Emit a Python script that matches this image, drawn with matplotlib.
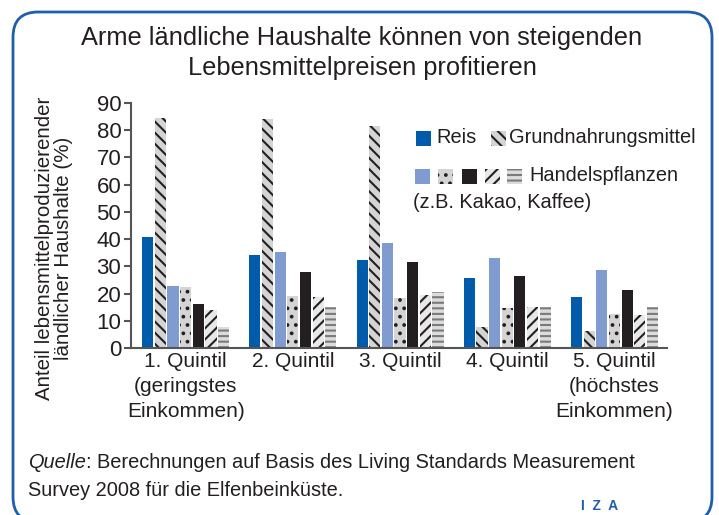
import matplotlib.pyplot as plt
import numpy as np
from matplotlib.patches import Rectangle, FancyBboxPatch

plt.rcParams['font.family'] = ['Liberation Sans', 'DejaVu Sans']
plt.rcParams['hatch.linewidth'] = 1.5

# data (share of food-producing rural households, %)
groups = ['1. Quintil\n(geringstes\nEinkommen)', '2. Quintil', '3. Quintil',
          '4. Quintil', '5. Quintil\n(höchstes\nEinkommen)']
reis = [40.9, 34.1, 32.3, 25.7, 18.7]
grund = [84.6, 84.1, 81.6, 7.6, 6.1]
handel_1 = [22.7, 35.2, 38.5, 33.0, 28.6]
handel_2 = [22.5, 19.0, 18.3, 14.6, 12.4]
handel_3 = [16.1, 27.9, 31.6, 26.4, 21.3]
handel_4 = [13.9, 18.6, 19.4, 15.0, 12.1]
handel_5 = [7.6, 15.0, 20.5, 15.0, 15.0]

series = [reis, grund, handel_1, handel_2, handel_3, handel_4, handel_5]
styles = [
    dict(color='#005BAA', edgecolor='#005BAA', hatch=None),
    dict(color='#D4D4D4', edgecolor='#231F20', hatch='\\\\\\'),
    dict(color='#7F9BCF', edgecolor='#7F9BCF', hatch=None),
    dict(color='#D4D4D4', edgecolor='#231F20', hatch='..'),
    dict(color='#231F20', edgecolor='#231F20', hatch=None),
    dict(color='#E8E8E8', edgecolor='#231F20', hatch='///'),
    dict(color='#DCDCDC', edgecolor='#7A7A7A', hatch='---'),
]
TXT = '#231F20'

W, H = 719, 515
fig = plt.figure(figsize=(W / 100, H / 100), dpi=100)


def fx(x):
    return x / W


def fy(y):
    return 1 - y / H


ax = fig.add_axes([fx(131), fy(348), fx(667) - fx(131), fy(103) - fy(348)])

x = np.arange(len(groups))
pitch = 0.118
width = 0.104
for i, (vals, st) in enumerate(zip(series, styles)):
    ax.bar(x + (i - 3) * pitch, vals, width, color=st['color'], edgecolor=st['edgecolor'],
           hatch=st['hatch'], linewidth=0)

ax.set_xlim(-0.51, 4.49)
ax.set_ylim(0, 90)
ax.set_yticks(np.arange(0, 91, 10))
ax.set_xticks(x)
ax.set_xticklabels(groups, fontsize=15, color=TXT, linespacing=1.4)
ax.tick_params(axis='x', length=0, pad=3)
ax.tick_params(axis='y', length=5, width=1.5, color='#555555', labelsize=16,
               labelcolor=TXT, pad=2)
for s in ['top', 'right']:
    ax.spines[s].set_visible(False)
for s in ['left', 'bottom']:
    ax.spines[s].set_color('#555555')
    ax.spines[s].set_linewidth(1.5)
fig.text(fx(54), fy(248), 'Anteil lebensmittelproduzierender\nländlicher Haushalte (%)', fontsize=14.8,
         color=TXT, linespacing=1.05, rotation=90, ha='center', va='center')


# legend drawn by hand
def legend_box(xp, yp, st):
    fig.patches.append(Rectangle((fx(xp), fy(yp + 15)), fx(15), 15 / H, transform=fig.transFigure,
                                 facecolor=st['color'], edgecolor=st['edgecolor'],
                                 hatch=st['hatch'], linewidth=0))


LF = 14.4
legend_box(416, 131, styles[0])
fig.text(fx(436), fy(138), 'Reis', fontsize=LF, color=TXT, va='center')
legend_box(491, 131, styles[1])
fig.text(fx(509), fy(138), 'Grundnahrungsmittel', fontsize=LF, color=TXT, va='center')
for xp, st in zip([415, 438, 462, 485, 507], styles[2:]):
    legend_box(xp, 169, st)
fig.text(fx(529), fy(176), 'Handelspflanzen', fontsize=LF, color=TXT, va='center')
fig.text(fx(413), fy(203), '(z.B. Kakao, Kaffee)', fontsize=LF, color=TXT, va='center')

fig.text(fx(362), fy(53), 'Arme ländliche Haushalte können von steigenden\nLebensmittelpreisen profitieren',
         fontsize=18.3, color=TXT, ha='center', va='center', linespacing=1.32)

q = fig.text(fx(28), fy(463), 'Quelle', fontsize=14.4, style='italic', color=TXT, va='center')
ax.annotate(': Berechnungen auf Basis des Living Standards Measurement', xy=(1, 0.5),
            xycoords=q, va='center', ha='left', fontsize=14.4, color=TXT,
            annotation_clip=False)
fig.text(fx(28), fy(490), 'Survey 2008 für die Elfenbeinküste.', fontsize=14.4, color=TXT,
         va='center')
fig.text(fx(600), fy(506), 'I  Z  A', fontsize=10, fontweight='bold', color='#1F5FAA',
         ha='center', va='center')

fig.patches.append(FancyBboxPatch((fx(13), fy(522)), fx(699), 510 / H, transform=fig.transFigure,
                                  boxstyle='round,pad=0,rounding_size=0.035',
                                  facecolor='none', edgecolor='#1F5FAA', linewidth=2,
                                  mutation_aspect=W / H))

fig.savefig('out.png', dpi=100)
